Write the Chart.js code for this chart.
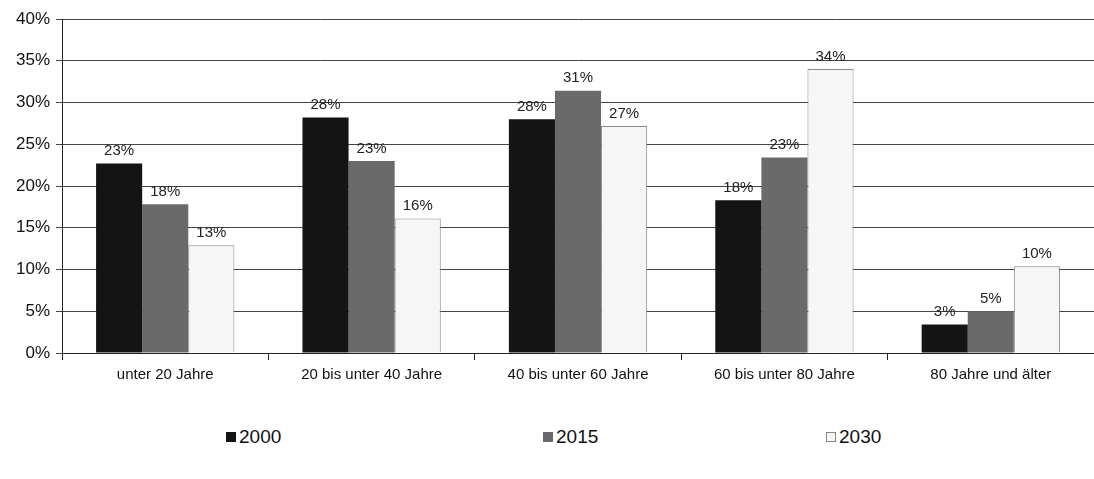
<!DOCTYPE html>
<html lang="de">
  <head>
    <meta charset="UTF-8" />
    <title>Altersstruktur 2000 / 2015 / 2030</title>
    <script src="https://cdn.jsdelivr.net/npm/chart.js"></script>
    <style>
      body { margin: 0; background: #fff; font-family: "Liberation Sans", Arial, sans-serif; }
      #wrap { position: relative; width: 1094px; height: 479px; }
      #box { position: absolute; left: 0; top: 0; width: 1094px; height: 390px; }
      .leg { position: absolute; top: 426px; font-size: 19px; color: #111; display: flex; align-items: center; }
      .leg span.sw { display: inline-block; width: 10px; height: 10px; margin-right: 3px; box-sizing: border-box; }
    </style>
  </head>
  <body>
    <div id="wrap">
      <div id="box"><canvas id="chart"></canvas></div>
      <div class="leg" style="left:226px"><span class="sw" style="background:#141414"></span>2000</div>
      <div class="leg" style="left:543px"><span class="sw" style="background:#6a6a6a"></span>2015</div>
      <div class="leg" style="left:826px"><span class="sw" style="background:#f6f6f6;border:1px solid #888"></span>2030</div>
    </div>
    <script>
      const categories = [
        "unter 20 Jahre",
        "20 bis unter 40 Jahre",
        "40 bis unter 60 Jahre",
        "60 bis unter 80 Jahre",
        "80 Jahre und älter",
      ];
      const years = ["2000", "2015", "2030"];
      const values2000 = [22.7, 28.2, 28.0, 18.3, 3.4];
      const values2015 = [17.8, 23.0, 31.4, 23.4, 5.0];
      const values2030 = [12.9, 16.1, 27.2, 34.0, 10.4];
      const yTicks = [0, 5, 10, 15, 20, 25, 30, 35, 40];

      // Prozentwerte über die Balken schreiben
      const valueLabels = {
        id: "valueLabels",
        afterDatasetsDraw(chart) {
          const ctx = chart.ctx;
          ctx.save();
          ctx.font = "15px 'Liberation Sans', Arial, sans-serif";
          ctx.fillStyle = "#222";
          ctx.textAlign = "center";
          ctx.textBaseline = "bottom";
          chart.data.datasets.forEach((ds, i) => {
            chart.getDatasetMeta(i).data.forEach((bar, j) => {
              ctx.fillText(Math.round(ds.data[j]) + "%", bar.x, bar.y - 5);
            });
          });
          ctx.restore();
        },
      };

      new Chart(document.getElementById("chart"), {
        type: "bar",
        data: {
          labels: categories,
          datasets: [
            { label: years[0], data: values2000, backgroundColor: "#141414", borderWidth: 0 },
            { label: years[1], data: values2015, backgroundColor: "#6a6a6a", borderWidth: 0 },
            { label: years[2], data: values2030, backgroundColor: "#f6f6f6", borderColor: "#8a8a8a", borderWidth: 1 },
          ],
        },
        options: {
          responsive: true,
          maintainAspectRatio: false,
          animation: false,
          categoryPercentage: 0.67,
          barPercentage: 1.0,
          layout: { padding: { top: 19, right: 0, left: 10, bottom: 0 } },
          plugins: {
            legend: { display: false },
            tooltip: { enabled: false },
          },
          scales: {
            x: {
              grid: {
                offset: true,
                drawOnChartArea: false,
                drawTicks: true,
                tickLength: 7,
                color: "#222",
              },
              border: { color: "#222", width: 1 },
              ticks: {
                color: "#111",
                font: { family: "'Liberation Sans', Arial, sans-serif", size: 15 },
                padding: 6,
                maxRotation: 0,
              },
            },
            y: {
              min: 0,
              max: 40,
              afterBuildTicks: (axis) => {
                axis.ticks = yTicks.map((v) => ({ value: v }));
              },
              grid: { color: "#444", lineWidth: 1, tickLength: 6 },
              border: { color: "#222", width: 1 },
              ticks: {
                color: "#111",
                font: { family: "'Liberation Sans', Arial, sans-serif", size: 17 },
                padding: 6,
                callback: (v) => v + "%",
              },
            },
          },
        },
        plugins: [valueLabels],
      });
    </script>
  </body>
</html>
